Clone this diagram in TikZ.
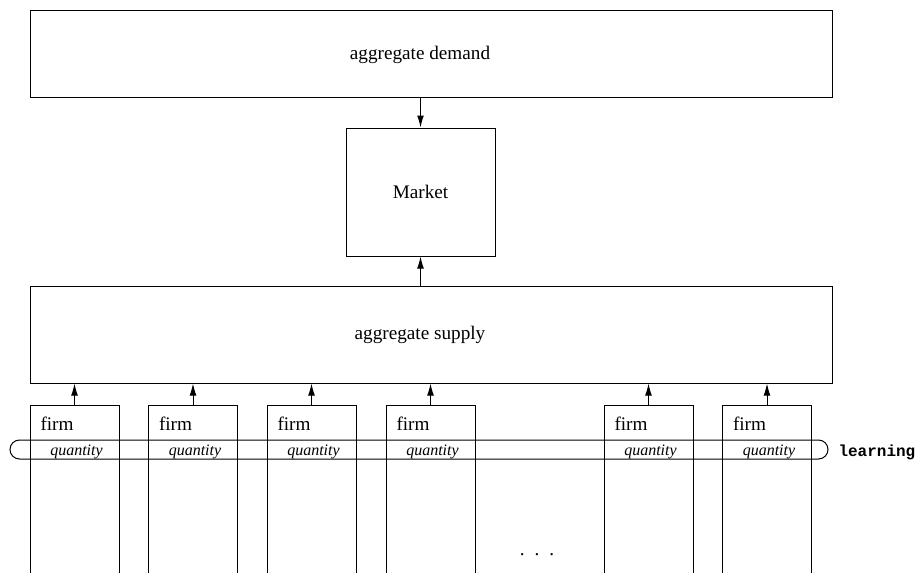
\documentclass[tikz,border=0pt]{standalone}
\usepackage{fontspec}
\setmainfont{Liberation Serif}
\setmonofont{Liberation Mono}
\usetikzlibrary{arrows.meta}

\begin{document}
\begin{tikzpicture}[x=0.5pt,y=-0.5pt,line width=0.5pt,
		box/.style={draw,inner sep=0pt,font=\fontsize{9.6}{11}\selectfont},
		up/.style={-{Latex[length=6pt,width=3.4pt]}}]
		\useasboundingbox (0,0) rectangle (917,573);
		\clip (0,0) rectangle (917,573);
		
		% top of the picture
		\node[box,minimum width=401pt,minimum height=43.5pt,
			label={[xshift=-5.5pt,yshift=-0.5pt,font=\fontsize{9.6}{11}\selectfont]center:aggregate demand}] (demand) at (431,53.5) {};
		\node[box,minimum width=74.5pt,minimum height=64pt] (market) at (420.5,192) {Market};
		\node[box,minimum width=401pt,minimum height=48.5pt,
			label={[xshift=-5.5pt,font=\fontsize{9.6}{11}\selectfont]center:aggregate supply}] (supply) at (431,334.5) {};
		
		\draw[up] (market.north |- demand.south) -- (market.north);
		\draw[up] (market.south |- supply.north) -- (market.south);
		
		% the learning band
		\draw[rounded corners=4.75pt] (10,440) rectangle (828,459);
		\node[anchor=base west,inner sep=0pt,font=\ttfamily\bfseries\fontsize{8}{10}\selectfont] (learn) at (838,456) {learning};
		
		% firms
		\foreach \i/\x in {1/74.5,2/193,3/311.5,4/430.5,5/648.5,6/767}{
			\node[box,minimum width=44.5pt,minimum height=87.5pt] (firm\i) at (\x,492.5) {};
			\node[anchor=base west,inner sep=0pt,font=\fontsize{9.6}{11}\selectfont] (name\i) at (\x-34.5,430) {firm};
			\node[anchor=base,inner sep=0pt,font=\itshape\fontsize{8}{10}\selectfont] (qty\i) at (\x+2,455) {quantity};
			\draw[up] (firm\i.north) -- (firm\i.north |- supply.south);
		}
		
		\node[inner sep=0pt,font=\fontsize{9.6}{11}\selectfont] (dots) at (537,555) {.\hspace{5pt}.\hspace{5pt}.};
	\end{tikzpicture}
\end{document}
